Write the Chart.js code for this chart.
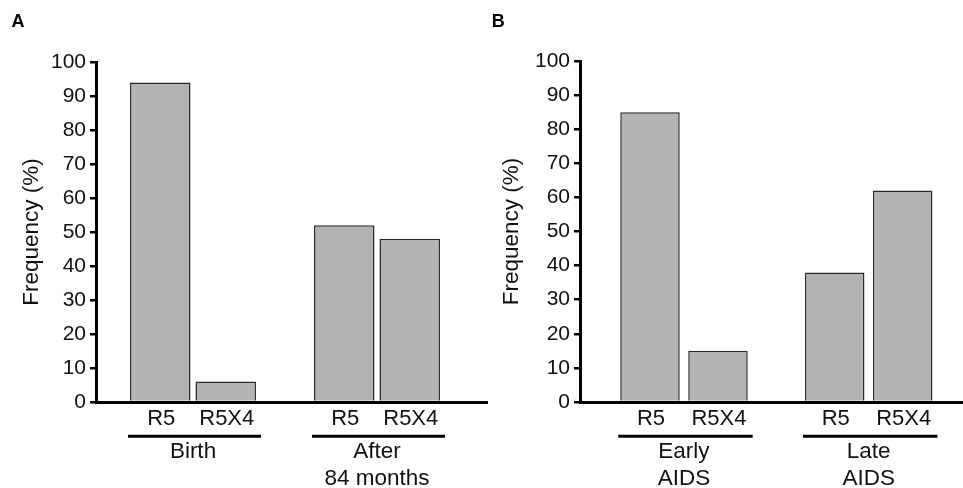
<!DOCTYPE html>
<html>
<head>
<meta charset="utf-8">
<script src="https://cdn.jsdelivr.net/npm/chart.js@4/dist/chart.umd.min.js"></script>
<style>
  html, body { margin: 0; padding: 0; background: #fff; }
  #wrap { position: relative; width: 963px; height: 488px; overflow: hidden; }
  canvas { position: absolute; top: 0; }
</style>
</head>
<body>
<div id="wrap">
  <canvas id="cA" width="490" height="488" style="left:0px"></canvas>
  <canvas id="cB" width="479" height="488" style="left:484px"></canvas>
</div>
<script>
// ---- data ----
const seriesNames = ['R5', 'R5X4'];
const groupsA = ['Birth', ['After', '84 months']];
const r5A = [94, 52];
const r5x4A = [6, 48];
const groupsB = [['Early', 'AIDS'], ['Late', 'AIDS']];
const r5B = [85, 38];
const r5x4B = [15, 62];
const yMin = 0, yMax = 100, yStep = 10;
const yTitle = 'Frequency (%)';

const FONT = "'Liberation Sans', Arial, Helvetica, sans-serif";
const TEXT = '#111';

// positions groups inside the x scale (layout only)
const groupPos = {
  id: 'groupPos',
  afterLayout(chart, args, opts) {
    const s = chart.scales.x;
    const n = s.getLabels().length;
    const range = (n - 1) / (opts.last - opts.first);
    s._valueRange = range;
    s._startValue = -opts.first * range;
  }
};

// series labels under each bar, group underline, panel letter
const annotate = {
  id: 'annotate',
  afterDraw(chart, args, opts) {
    const ctx = chart.ctx;
    const area = chart.chartArea;
    ctx.save();
    ctx.fillStyle = TEXT;
    ctx.font = '22px ' + FONT;
    ctx.textAlign = 'center';
    ctx.textBaseline = 'middle';
    const nGroups = chart.data.labels.length;
    const lo = new Array(nGroups).fill(Infinity);
    const hi = new Array(nGroups).fill(-Infinity);
    chart.data.datasets.forEach((ds, di) => {
      const meta = chart.getDatasetMeta(di);
      meta.data.forEach((bar, gi) => {
        ctx.fillText(ds.label, bar.x + 1, area.bottom + 16.7);
        lo[gi] = Math.min(lo[gi], bar.x - bar.width / 2);
        hi[gi] = Math.max(hi[gi], bar.x + bar.width / 2);
      });
    });
    ctx.strokeStyle = '#000';
    ctx.lineWidth = 3;
    for (let g = 0; g < nGroups; g++) {
      ctx.beginPath();
      ctx.moveTo(lo[g] - 2, area.bottom + 34.3);
      ctx.lineTo(hi[g] + 5, area.bottom + 34.3);
      ctx.stroke();
    }
    ctx.font = 'bold 18px ' + FONT;
    ctx.textAlign = 'left';
    ctx.textBaseline = 'alphabetic';
    ctx.fillStyle = '#000';
    ctx.fillText(opts.letter, opts.lx, 27);
    ctx.restore();
  }
};

function makeChart(id, groups, r5, r5x4, L) {
  return new Chart(document.getElementById(id), {
    type: 'bar',
    data: {
      labels: groups,
      datasets: [
        { label: seriesNames[0], data: r5 },
        { label: seriesNames[1], data: r5x4 }
      ].map(d => Object.assign(d, {
        backgroundColor: '#b3b3b3',
        borderColor: '#2a2a2a',
        borderWidth: 1.5,
        categoryPercentage: L.catPct,
        barPercentage: L.barPct
      }))
    },
    options: {
      responsive: false,
      devicePixelRatio: 1,
      animation: false,
      events: [],
      layout: { padding: { left: 0, top: L.top, right: L.padRight, bottom: 0 } },
      plugins: {
        legend: { display: false },
        tooltip: { enabled: false },
        groupPos: { first: L.first, last: L.last },
        annotate: { letter: L.letter, lx: L.lx }
      },
      scales: {
        x: {
          type: 'category',
          offset: true,
          grid: { display: false, drawTicks: false },
          border: { display: true, color: '#000', width: 3 },
          ticks: {
            color: TEXT,
            font: { family: FONT, size: 22.5, lineHeight: 1.2 },
            padding: 36.5,
            maxRotation: 0,
            autoSkip: false
          },
          afterFit: (s) => { s.height = 86; }
        },
        y: {
          min: yMin,
          max: yMax,
          grid: { display: true, drawOnChartArea: false, drawTicks: true, tickLength: 6, color: '#000', lineWidth: 2.5 },
          border: { display: true, color: '#000', width: 3 },
          ticks: {
            stepSize: yStep,
            color: TEXT,
            font: { family: FONT, size: 21 },
            padding: 4
          },
          title: {
            display: true,
            text: yTitle,
            color: TEXT,
            font: { family: FONT, size: 22.5 },
            padding: { top: L.titlePad, bottom: 0 }
          },
          afterFit: (s) => { s.width = 96; }
        }
      }
    },
    plugins: [groupPos, annotate]
  });
}

makeChart('cA', groupsA, r5A, r5x4A, {
  top: 62, padRight: 3, first: 0.2481, last: 0.7187,
  catPct: 0.712, barPct: 0.924, titlePad: 18.5, letter: 'A', lx: 11.5
});
makeChart('cB', groupsB, r5B, r5x4B, {
  top: 61, padRight: 0, first: 0.2715, last: 0.7538,
  catPct: 0.736, barPct: 0.875, titlePad: 14.5, letter: 'B', lx: 7.7
});
</script>
</body>
</html>
